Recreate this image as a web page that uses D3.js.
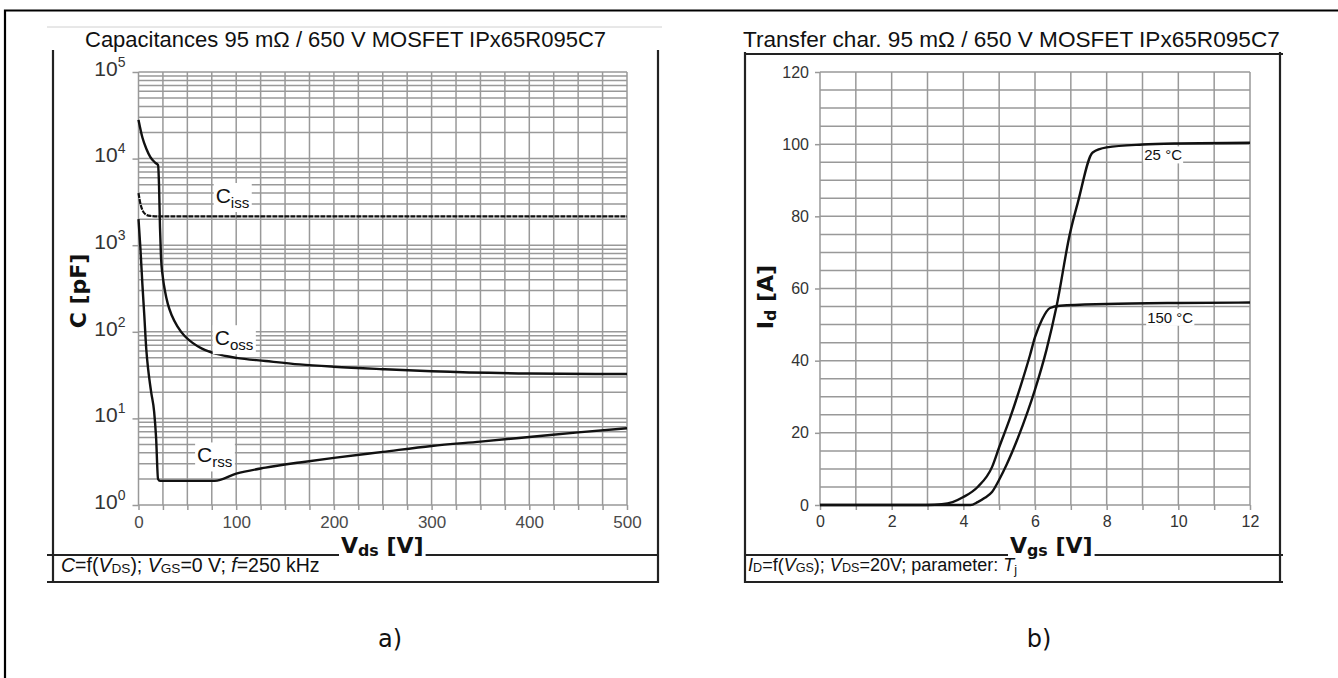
<!DOCTYPE html>
<html>
<head>
<meta charset="utf-8">
<script src="https://cdn.jsdelivr.net/npm/d3@7"></script>
<style>
  body { margin: 0; background: #fff; }
  svg { display: block; }
</style>
</head>
<body>
<svg id="chart" width="1338" height="678"></svg>
<script>
// ---------- Panel a) capacitances vs. drain-source voltage ----------
const vdsLabels = [0, 100, 200, 300, 400, 500];
const capDecades = [1, 10, 100, 1000, 10000, 100000];
// [Vds (V), C (pF)]
const ciss = [[0, 4000], [2, 3000], [4, 2550], [7, 2280], [12, 2180], [25, 2150], [100, 2150], [250, 2150], [500, 2150]];
const coss = [[0, 28000], [4, 17500], [8, 13000], [12, 10500], [17, 9000], [20, 8400], [21, 5000], [22, 1600],
              [23, 750], [25, 420], [27, 300], [30, 210], [34, 155], [40, 115], [47, 90], [55, 75], [65, 64],
              [80, 55.5], [100, 50], [130, 46], [165, 42], [200, 39.5], [250, 37], [300, 35], [400, 33], [500, 32.5]];
const crss = [[0, 2000], [2, 900], [4, 350], [6, 150], [8, 62], [10, 36], [13, 20], [16, 12], [18, 6],
              [20, 2.0], [22, 1.9], [78, 1.9], [100, 2.3], [130, 2.7], [165, 3.1], [200, 3.5], [250, 4.1],
              [300, 4.8], [350, 5.4], [400, 6.1], [450, 6.9], [500, 7.7]];

// ---------- Panel b) transfer characteristic ----------
const vgsLabels = [0, 2, 4, 6, 8, 10, 12];
const idLabels = [0, 20, 40, 60, 80, 100, 120];
// [Vgs (V), Id (A)]
const tj25 = [[0, 0], [4.2, 0], [4.4, 0.8], [4.6, 2], [4.8, 3.6], [5.0, 7], [5.2, 11], [5.5, 18], [5.8, 26],
              [6.0, 32], [6.32, 43], [6.6, 55], [6.97, 75], [7.2, 84], [7.61, 97.7], [8, 99.1], [9, 99.9],
              [10, 100.2], [12, 100.4]];
const tj150 = [[0, 0], [3.0, 0], [3.4, 0.2], [3.7, 0.8], [4.0, 2.2], [4.4, 5], [4.8, 10.5], [5.0, 16],
               [5.3, 24], [5.6, 33], [5.86, 41.5], [6.0, 46.5], [6.2, 51.5], [6.42, 54.6], [6.7, 55.2],
               [8, 55.7], [10, 56], [12, 56.1]];

const svg = d3.select("#chart");
const INK = "#111";
const GRID = "#999";
const SANS = "'Liberation Sans', Arial, sans-serif";
const BOLD = "'DejaVu Sans', Verdana, sans-serif";

// outer frame (runs off the right and bottom edges)
svg.append("path").attr("d", "M5,700V10.5H1350")
  .attr("fill", "none").attr("stroke", "#000").attr("stroke-width", 2.2);

// text built from pieces: {t, it (italic), sub, dy, scale, back}
function rich(textSel, parts, base) {
  parts.forEach(p => {
    const ts = textSel.append("tspan").text(p.t);
    if (p.it) ts.attr("font-style", "italic");
    if (p.sub) ts.attr("font-size", base * (p.scale || 0.68)).attr("dy", p.dy != null ? p.dy : base * 0.22);
    if (p.back) ts.attr("dy", p.back);
  });
  return textSel;
}

function whiteBehind(g, textSel, padX, padY) {
  const b = textSel.node().getBBox();
  g.insert("rect", () => textSel.node())
    .attr("x", b.x - padX).attr("y", b.y - padY)
    .attr("width", b.width + 2 * padX).attr("height", b.height + 2 * padY)
    .attr("fill", "#fff");
}

// ================= Panel a =================
const xL = d3.scaleLinear().domain([0, 500]).range([138.5, 627]);
const yL = d3.scaleLog().domain([1, 1e5]).range([505, 72]);
const gA = svg.append("g");

gA.append("line").attr("x1", 47).attr("x2", 662).attr("y1", 27).attr("y2", 27)
  .attr("stroke", "#d0d0d0").attr("stroke-width", 1);
gA.append("text").attr("x", 85).attr("y", 47)
  .attr("font-family", SANS).attr("font-size", 22).attr("fill", INK)
  .text("Capacitances 95 m\u03A9 / 650 V MOSFET IPx65R095C7");

// grid
const gridA = gA.append("g").attr("stroke", GRID).attr("stroke-width", 1.5);
gridA.selectAll("line.v").data(d3.range(0, 501, 25)).join("line")
  .attr("x1", d => xL(d)).attr("x2", d => xL(d)).attr("y1", yL(1e5)).attr("y2", yL(1));
gridA.selectAll("line.h").data(yL.ticks()).join("line")
  .attr("x1", xL(0)).attr("x2", xL(500)).attr("y1", d => yL(d)).attr("y2", d => yL(d));

// axes
const axA_x = gA.append("g").attr("transform", `translate(0,${yL(1)})`)
  .call(d3.axisBottom(xL).tickValues(d3.range(0, 501, 25)).tickSize(5).tickPadding(6)
    .tickFormat(d => vdsLabels.includes(d) ? d : ""));
const axA_y = gA.append("g").attr("transform", `translate(${xL(0)},0)`)
  .call(d3.axisLeft(yL).tickValues(capDecades).tickSize(6).tickPadding(7).tickFormat(() => ""));
[axA_x, axA_y].forEach(ax => {
  ax.select(".domain").remove();
  ax.selectAll(".tick line").attr("stroke", GRID).attr("stroke-width", 1.5);
});
axA_x.selectAll(".tick text").attr("font-family", SANS).attr("font-size", 17).attr("fill", "#4a4a4a");
axA_y.selectAll(".tick text").each(function (d) {
  const t = d3.select(this).attr("font-family", SANS).attr("fill", "#333");
  t.append("tspan").attr("font-size", 21).text("10");
  t.append("tspan").attr("font-size", 14).attr("dy", -9).text(Math.round(Math.log10(d)));
});

// curves
const lineA = d3.line().x(d => xL(d[0])).y(d => yL(d[1])).curve(d3.curveMonotoneX);
gA.append("path").datum(ciss).attr("d", lineA).attr("fill", "none")
  .attr("stroke", INK).attr("stroke-width", 2.2).attr("stroke-dasharray", "5 1");
gA.append("path").datum(coss).attr("d", lineA).attr("fill", "none")
  .attr("stroke", INK).attr("stroke-width", 2.4);
gA.append("path").datum(crss).attr("d", lineA).attr("fill", "none")
  .attr("stroke", INK).attr("stroke-width", 2.4);

// curve names
[["iss", 79, 3070], ["oss", 78, 70], ["rss", 60, 3.1]].forEach(([s, v, c]) => {
  const t = gA.append("text").attr("x", xL(v)).attr("y", yL(c))
    .attr("font-family", SANS).attr("font-size", 21).attr("fill", INK);
  rich(t, [{ t: "C" }, { t: s, sub: true, dy: 5, scale: 0.72 }], 21);
  whiteBehind(gA, t, 2, 1);
});

// frame
const frameA = gA.append("g").attr("stroke", "#222").attr("fill", "none");
frameA.append("line").attr("x1", 53).attr("x2", 53).attr("y1", 50).attr("y2", 583).attr("stroke-width", 2.2);
frameA.append("line").attr("x1", 658).attr("x2", 658).attr("y1", 50).attr("y2", 583).attr("stroke-width", 2.2);
frameA.append("line").attr("x1", 47).attr("x2", 659).attr("y1", 555).attr("y2", 555).attr("stroke-width", 1.8);
frameA.append("line").attr("x1", 47).attr("x2", 659).attr("y1", 582).attr("y2", 582).attr("stroke-width", 2.2);

// axis titles
const xtA = gA.append("text").attr("x", 341).attr("y", 553)
  .attr("font-family", BOLD).attr("font-weight", "bold").attr("font-size", 22).attr("fill", INK);
rich(xtA, [{ t: "V" }, { t: "ds", sub: true, dy: 3, scale: 0.72 }, { t: " [V]", back: -3 }], 22);
whiteBehind(gA, xtA, 2, 0);

gA.append("text").attr("transform", "translate(86,291) rotate(-90)").attr("text-anchor", "middle")
  .attr("font-family", BOLD).attr("font-weight", "bold").attr("font-size", 22).attr("fill", INK)
  .text("C [pF]");

// test conditions
const ftA = gA.append("text").attr("x", 61).attr("y", 572)
  .attr("font-family", SANS).attr("font-size", 19.5).attr("fill", INK);
rich(ftA, [{ t: "C", it: true }, { t: "=f(" }, { t: "V", it: true }, { t: "DS", sub: true, dy: 1, scale: 0.7 },
  { t: "); ", back: -1 }, { t: "V", it: true }, { t: "GS", sub: true, dy: 1, scale: 0.7 }, { t: "=0 V; ", back: -1 },
  { t: "f", it: true }, { t: "=250 kHz" }], 19.5);

svg.append("text").attr("x", 390).attr("y", 647).attr("text-anchor", "middle")
  .attr("font-family", BOLD).attr("font-size", 24).attr("fill", INK).text("a)");

// ================= Panel b =================
const xR = d3.scaleLinear().domain([0, 12]).range([820, 1250]);
const yR = d3.scaleLinear().domain([0, 120]).range([505, 72]);
const gB = svg.append("g");

gB.append("text").attr("x", 743).attr("y", 47)
  .attr("font-family", SANS).attr("font-size", 22.6).attr("fill", INK)
  .text("Transfer char. 95 m\u03A9 / 650 V MOSFET IPx65R095C7");

const gridB = gB.append("g").attr("stroke", GRID).attr("stroke-width", 1.5);
gridB.selectAll("line.v").data(d3.range(0, 12.01, 1)).join("line")
  .attr("x1", d => xR(d)).attr("x2", d => xR(d)).attr("y1", yR(120)).attr("y2", yR(0));
gridB.selectAll("line.h").data(d3.range(0, 120.01, 5)).join("line")
  .attr("x1", xR(0)).attr("x2", xR(12)).attr("y1", d => yR(d)).attr("y2", d => yR(d));

const axB_x = gB.append("g").attr("transform", `translate(0,${yR(0)})`)
  .call(d3.axisBottom(xR).tickValues(d3.range(0, 12.01, 1)).tickSize(5).tickPadding(6)
    .tickFormat(d => vgsLabels.includes(d) ? d : ""));
const axB_y = gB.append("g").attr("transform", `translate(${xR(0)},0)`)
  .call(d3.axisLeft(yR).tickValues(idLabels).tickSize(5).tickPadding(6));
[axB_x, axB_y].forEach(ax => {
  ax.select(".domain").remove();
  ax.selectAll(".tick line").attr("stroke", GRID).attr("stroke-width", 1.5);
  ax.selectAll(".tick text").attr("font-family", SANS).attr("font-size", 16).attr("fill", "#333");
});

const lineB = d3.line().x(d => xR(d[0])).y(d => yR(d[1])).curve(d3.curveMonotoneX);
[tj25, tj150].forEach(s => gB.append("path").datum(s).attr("d", lineB).attr("fill", "none")
  .attr("stroke", INK).attr("stroke-width", 2.4));

[["25 \u00B0C", 9.05, 95.5], ["150 \u00B0C", 9.13, 50.5]].forEach(([s, v, i]) => {
  const t = gB.append("text").attr("x", xR(v)).attr("y", yR(i))
    .attr("font-family", SANS).attr("font-size", 15).attr("fill", INK).text(s);
  whiteBehind(gB, t, 1, 0);
});

const frameB = gB.append("g").attr("stroke", "#222").attr("fill", "none");
frameB.append("line").attr("x1", 745).attr("x2", 745).attr("y1", 52).attr("y2", 583).attr("stroke-width", 2.2);
frameB.append("line").attr("x1", 1280).attr("x2", 1280).attr("y1", 52).attr("y2", 583).attr("stroke-width", 2.2);
frameB.append("line").attr("x1", 744).attr("x2", 1283).attr("y1", 54).attr("y2", 54).attr("stroke-width", 2);
frameB.append("line").attr("x1", 745).attr("x2", 1283).attr("y1", 555).attr("y2", 555).attr("stroke-width", 1.8);
frameB.append("line").attr("x1", 745).attr("x2", 1283).attr("y1", 582).attr("y2", 582).attr("stroke-width", 2.2);

const xtB = gB.append("text").attr("x", 1010).attr("y", 553)
  .attr("font-family", BOLD).attr("font-weight", "bold").attr("font-size", 22).attr("fill", INK);
rich(xtB, [{ t: "V" }, { t: "gs", sub: true, dy: 3, scale: 0.72 }, { t: " [V]", back: -3 }], 22);
whiteBehind(gB, xtB, 2, 0);

const ytB = gB.append("text").attr("transform", "translate(773,297) rotate(-90)").attr("text-anchor", "middle")
  .attr("font-family", BOLD).attr("font-weight", "bold").attr("font-size", 22).attr("fill", INK);
rich(ytB, [{ t: "I" }, { t: "d", sub: true, dy: 3, scale: 0.72 }, { t: " [A]", back: -3 }], 22);

const ftB = gB.append("text").attr("x", 748).attr("y", 571)
  .attr("font-family", SANS).attr("font-size", 18).attr("fill", INK);
rich(ftB, [{ t: "I", it: true }, { t: "D", sub: true, dy: 1, scale: 0.7 }, { t: "=f(", back: -1 },
  { t: "V", it: true }, { t: "GS", sub: true, dy: 1, scale: 0.7 }, { t: "); ", back: -1 },
  { t: "V", it: true }, { t: "DS", sub: true, dy: 1, scale: 0.7 }, { t: "=20V; parameter: ", back: -1 },
  { t: "T", it: true }, { t: "j", sub: true, dy: 3, scale: 0.7 }], 18);

svg.append("text").attr("x", 1039).attr("y", 647).attr("text-anchor", "middle")
  .attr("font-family", BOLD).attr("font-size", 24).attr("fill", INK).text("b)");
</script>
</body>
</html>
